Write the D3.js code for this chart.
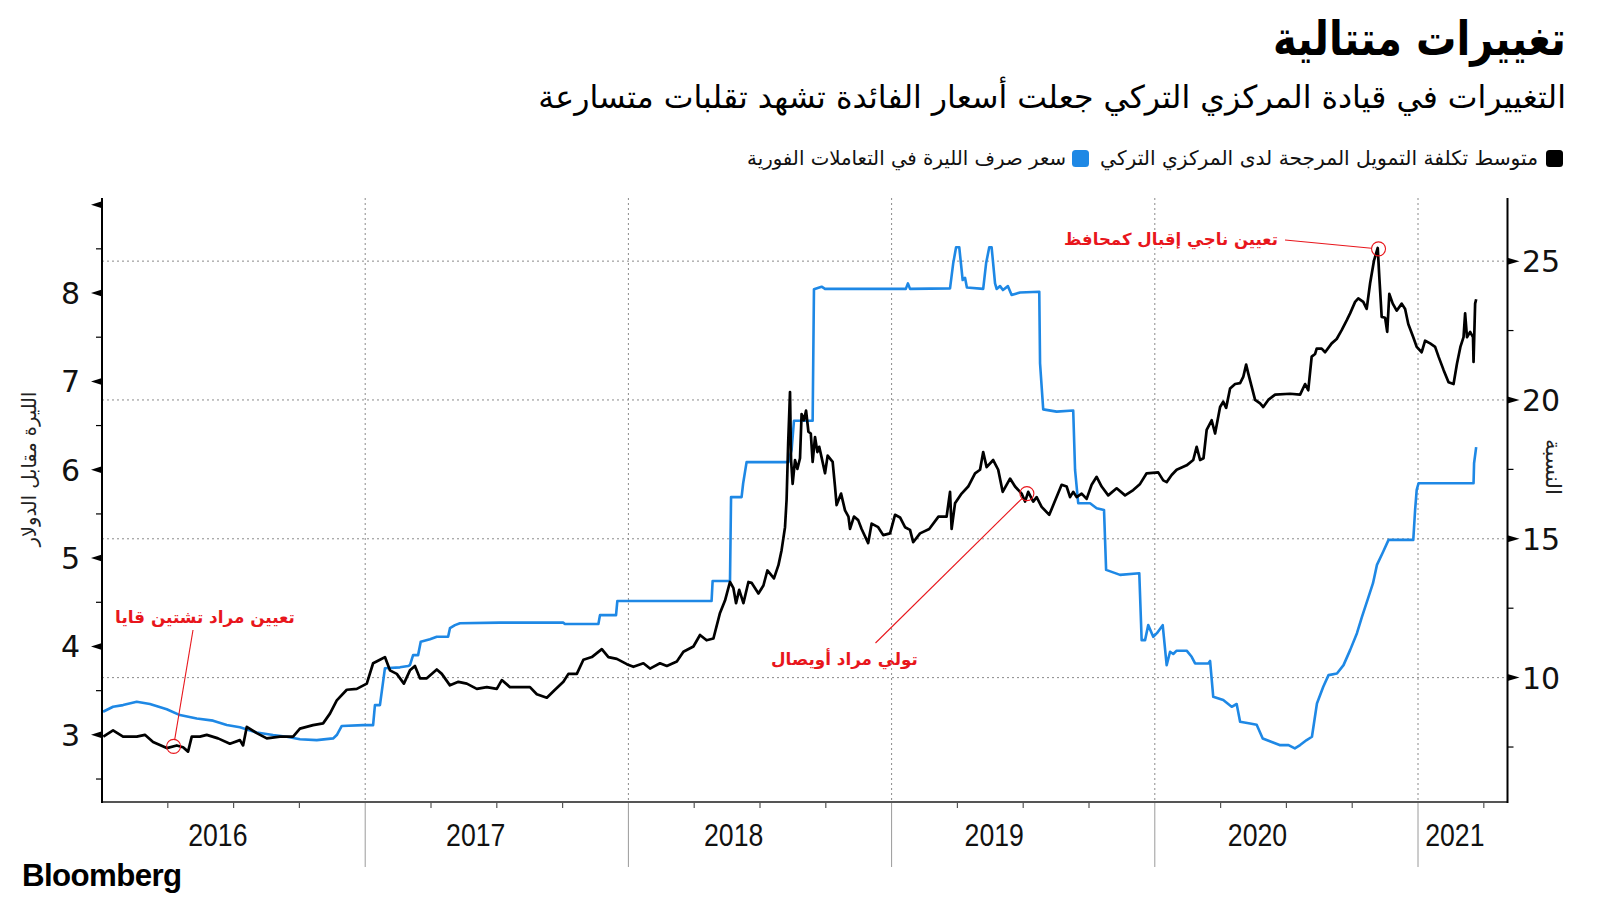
<!DOCTYPE html>
<html><head><meta charset="utf-8">
<script src="https://cdnjs.cloudflare.com/ajax/libs/d3/7.8.5/d3.min.js"></script>
<style>
html,body{margin:0;padding:0;background:#fff;}
svg{display:block;}
</style></head><body>
<svg id="c" width="1600" height="901"></svg>
<script>
// ---- DATA (time as decimal years) ----
const liraT = [2016.005,2016.042,2016.080,2016.132,2016.163,2016.194,2016.246,2016.284,2016.308,2016.327,2016.341,2016.372,2016.398,2016.441,2016.486,2016.524,2016.536,2016.550,2016.588,2016.626,2016.676,2016.726,2016.752,2016.802,2016.840,2016.866,2016.892,2016.930,2016.968,
2017.006,2017.030,2017.056,2017.075,2017.094,2017.120,2017.147,2017.170,2017.189,2017.208,2017.234,2017.272,2017.291,2017.322,2017.354,2017.386,2017.424,2017.462,2017.500,2017.519,2017.550,2017.588,2017.626,2017.652,2017.690,2017.721,2017.753,2017.772,2017.804,2017.829,2017.861,2017.899,2017.924,2017.956,2017.994,
2018.019,2018.057,2018.082,2018.120,2018.146,2018.184,2018.209,2018.247,2018.272,2018.297,2018.323,2018.348,2018.367,2018.386,2018.399,2018.409,2018.421,2018.437,2018.456,2018.468,2018.494,2018.513,2018.528,2018.553,2018.570,2018.582,2018.595,2018.601,2018.607,2018.614,2018.618,2018.624,2018.633,2018.642,2018.652,2018.658,2018.667,2018.675,2018.684,2018.693,2018.700,2018.709,2018.718,2018.725,2018.734,2018.747,2018.757,2018.776,2018.785,2018.791,2018.808,2018.823,2018.836,2018.842,2018.857,2018.873,2018.886,2018.911,2018.924,2018.949,2018.968,2018.994,
2019.013,2019.032,2019.051,2019.070,2019.082,2019.108,2019.143,2019.178,2019.209,2019.222,2019.228,2019.241,2019.266,2019.291,2019.317,2019.336,2019.348,2019.361,2019.386,2019.405,2019.422,2019.450,2019.469,2019.494,2019.507,2019.519,2019.538,2019.551,2019.570,2019.599,2019.617,2019.646,2019.665,2019.678,2019.690,2019.703,2019.722,2019.741,2019.760,2019.779,2019.798,2019.823,2019.855,2019.887,2019.918,2019.944,2019.969,
2020.013,2020.032,2020.045,2020.064,2020.083,2020.121,2020.146,2020.159,2020.172,2020.185,2020.197,2020.216,2020.229,2020.248,2020.260,2020.271,2020.286,2020.305,2020.324,2020.336,2020.347,2020.355,2020.368,2020.381,2020.400,2020.412,2020.431,2020.457,2020.514,2020.552,2020.571,2020.583,2020.596,2020.609,2020.615,2020.634,2020.647,2020.672,2020.691,2020.710,2020.729,2020.742,2020.761,2020.773,2020.792,2020.805,2020.818,2020.833,2020.847,2020.853,2020.862,2020.875,2020.883,2020.891,2020.904,2020.919,2020.938,2020.951,2020.963,2020.982,2020.995,
2021.014,2021.027,2021.046,2021.065,2021.078,2021.097,2021.116,2021.135,2021.148,2021.161,2021.173,2021.179,2021.186,2021.198,2021.209,2021.211,2021.217,2021.221];
const liraV = [2.98,3.05,2.98,2.98,3.00,2.92,2.85,2.88,2.86,2.81,2.98,2.98,3.00,2.96,2.90,2.94,2.88,3.09,3.02,2.96,2.98,2.98,3.07,3.11,3.13,3.24,3.39,3.51,3.52,
3.58,3.81,3.85,3.88,3.73,3.69,3.58,3.73,3.78,3.64,3.64,3.74,3.69,3.56,3.60,3.58,3.52,3.54,3.52,3.62,3.54,3.54,3.54,3.46,3.42,3.51,3.60,3.69,3.69,3.85,3.88,3.97,3.88,3.86,3.80,
3.77,3.81,3.75,3.81,3.78,3.83,3.94,4.00,4.13,4.07,4.09,4.38,4.52,4.73,4.66,4.49,4.64,4.49,4.73,4.72,4.60,4.69,4.86,4.77,4.92,5.09,5.35,5.66,6.30,6.88,6.11,5.84,6.11,6.01,6.13,6.63,6.56,6.67,6.43,6.41,6.09,6.37,6.20,6.26,6.14,5.96,6.16,6.09,5.81,5.60,5.73,5.54,5.47,5.33,5.47,5.43,5.33,5.17,5.39,5.35,5.26,5.28,
5.49,5.46,5.35,5.32,5.18,5.28,5.33,5.47,5.47,5.75,5.33,5.62,5.73,5.81,5.96,6.00,6.20,6.03,6.11,6.00,5.75,5.90,5.81,5.73,5.64,5.75,5.64,5.69,5.58,5.49,5.62,5.83,5.81,5.69,5.75,5.69,5.73,5.67,5.83,5.92,5.81,5.71,5.79,5.71,5.77,5.84,5.96,
5.97,5.88,5.86,5.94,6.00,6.05,6.11,6.26,6.11,6.13,6.45,6.56,6.41,6.71,6.77,6.70,6.92,6.97,6.98,7.05,7.19,7.09,6.94,6.79,6.75,6.71,6.79,6.85,6.86,6.85,6.97,6.90,7.28,7.31,7.37,7.37,7.33,7.43,7.48,7.58,7.69,7.77,7.90,7.94,7.90,7.82,8.11,8.37,8.51,8.18,7.73,7.72,7.56,7.99,7.88,7.80,7.88,7.82,7.65,7.50,7.39,
7.33,7.46,7.43,7.39,7.28,7.13,6.99,6.97,7.20,7.39,7.50,7.77,7.50,7.56,7.50,7.22,7.88,7.93];

const rateT = [2016.004,2016.042,2016.080,2016.132,2016.182,2016.246,2016.296,2016.360,2016.422,2016.474,2016.524,2016.588,2016.650,2016.702,2016.752,2016.816,2016.878,2016.892,2016.911,2016.992,
2017.030,2017.037,2017.056,2017.075,2017.132,2017.163,2017.170,2017.182,2017.201,2017.211,2017.246,2017.272,2017.315,2017.322,2017.341,2017.360,2017.512,2017.752,2017.759,2017.886,2017.892,2017.953,2017.958,
2018.316,2018.320,2018.386,2018.390,2018.430,2018.436,2018.449,2018.608,2018.620,2018.629,2018.700,2018.705,2018.734,2018.747,
2019.054,2019.062,2019.070,2019.222,2019.234,2019.245,2019.257,2019.270,2019.279,2019.286,2019.348,2019.359,2019.371,2019.380,2019.393,2019.399,2019.412,2019.423,2019.442,2019.456,2019.488,2019.561,2019.564,2019.576,2019.627,2019.690,2019.697,2019.709,2019.754,2019.779,2019.807,2019.815,2019.868,2019.941,2019.950,2019.963,2019.975,2019.994,
2020.008,2020.030,2020.045,2020.058,2020.070,2020.083,2020.121,2020.140,2020.153,2020.203,2020.210,2020.222,2020.260,2020.292,2020.311,2020.324,2020.362,2020.387,2020.410,2020.442,2020.474,2020.508,2020.532,2020.552,2020.577,2020.597,2020.616,2020.640,2020.660,2020.692,2020.717,2020.742,2020.768,2020.787,2020.812,2020.829,2020.844,2020.868,2020.888,2020.982,2020.989,2020.995,
2021.002,2021.211,2021.213,2021.221];
const rateV = [8.77,8.95,9.01,9.13,9.05,8.86,8.65,8.53,8.45,8.29,8.21,8.02,7.93,7.87,7.78,7.75,7.81,7.93,8.26,8.29,
8.29,9.01,9.01,10.34,10.37,10.42,10.45,10.81,10.81,11.29,11.38,11.47,11.47,11.78,11.89,11.96,11.98,11.98,11.93,11.93,12.25,12.25,12.76,
12.76,13.48,13.48,16.50,16.50,17.00,17.76,17.76,18.20,19.25,19.25,23.99,24.08,24.00,
24.00,24.20,24.00,24.02,24.92,25.50,25.50,24.32,24.40,24.05,24.00,24.92,25.50,25.50,24.20,24.00,24.10,23.96,24.10,23.78,23.87,23.90,21.32,19.66,19.58,19.62,17.48,16.28,16.28,16.10,16.04,13.88,13.70,13.76,11.35,11.35,11.89,11.47,
11.60,11.89,10.45,10.93,10.85,10.97,10.97,10.75,10.51,10.51,10.60,9.31,9.19,8.95,9.05,8.41,8.35,8.30,7.81,7.69,7.57,7.57,7.45,7.57,7.75,7.87,9.07,9.67,10.09,10.15,10.45,10.99,11.60,12.19,12.91,13.40,14.06,14.54,14.96,14.96,16.04,16.76,
17.00,17.00,17.72,18.30];

const years = [2016,2017,2018,2019,2020,2021];
const yearLabels = ["2016","2017","2018","2019","2020","2021"];
const leftTicks = [3,4,5,6,7,8,9];
const leftLabels = ["3","4","5","6","7","8",""];
const leftMinor = [2.5,3.5,4.5,5.5,6.5,7.5,8.5];
const rightTicks = [10,15,20,25];
const rightLabels = ["10","15","20","25"];
const rightMinor = [7.5,12.5,17.5,22.5];

const title = "تغييرات متتالية";
const subtitle = "التغييرات في قيادة المركزي التركي جعلت أسعار الفائدة تشهد تقلبات متسارعة";
const legendLabels = ["متوسط تكلفة التمويل المرجحة لدى المركزي التركي","سعر صرف الليرة في التعاملات الفورية"];
const leftTitle = "الليرة مقابل الدولار";
const rightTitle = "النسبة";
const annotations = [
  {t:2016.272, v:2.87, text:"تعيين مراد تشتين قايا"},
  {t:2019.514, v:5.73, text:"تولي مراد أويصال"},
  {t:2020.850, v:8.50, text:"تعيين ناجي إقبال كمحافظ"}
];

// ---- LAYOUT ----
const L = 102, R = 1507.5, T = 198, B = 802;
const BLUE = "#1e88e5", RED = "#e8161c";
const ARAB = "'DejaVu Sans', 'Noto Sans', sans-serif";
const svg = d3.select("#c");

const x = d3.scaleLinear().domain([2016, 2021.34]).range([L, R]);
const yL = d3.scaleLinear().domain([2.24, 9.03]).range([B, 202]);
const yR = d3.scaleLinear().domain([5.52, 27.13]).range([B, 202]);

function fit(sel, w){
  const n = sel.node(); const fs = parseFloat(sel.attr("font-size"));
  const len = n.getComputedTextLength(); if(len>0) sel.attr("font-size", fs*w/len);
  return sel;
}

// gridlines
const g = svg.append("g");
g.selectAll(".hg").data(rightTicks).join("line")
  .attr("x1", L).attr("x2", R).attr("y1", d=>yR(d)).attr("y2", d=>yR(d))
  .attr("stroke","#8a8a8a").attr("stroke-width",1).attr("stroke-dasharray","2,3");
const yearStarts = years.slice(1);
g.selectAll(".vg").data(yearStarts).join("line")
  .attr("x1", d=>x(d)).attr("x2", d=>x(d)).attr("y1", T).attr("y2", B)
  .attr("stroke","#8a8a8a").attr("stroke-width",1).attr("stroke-dasharray","2,3");
g.selectAll(".vs").data(yearStarts).join("line")
  .attr("x1", d=>x(d)).attr("x2", d=>x(d)).attr("y1", B).attr("y2", 867)
  .attr("stroke","#9a9a9a").attr("stroke-width",1);

// quarter ticks
const quarters = [];
years.forEach(yv=>[0.25,0.5,0.75].forEach(q=>{ if(yv+q < 2021.34) quarters.push(yv+q); }));
g.selectAll(".qt").data(quarters).join("line")
  .attr("x1", d=>x(d)).attr("x2", d=>x(d)).attr("y1", B).attr("y2", B+6)
  .attr("stroke","#555").attr("stroke-width",1.2);

// series
const blueData = rateT.map((t,i)=>[t, rateV[i]]);
const blackData = liraT.map((t,i)=>[t, liraV[i]]);
svg.append("path").datum(blueData)
  .attr("d", d3.line().x(d=>x(d[0])).y(d=>yR(d[1])))
  .attr("fill","none").attr("stroke",BLUE).attr("stroke-width",2.6).attr("stroke-linejoin","round");
svg.append("path").datum(blackData)
  .attr("d", d3.line().x(d=>x(d[0])).y(d=>yL(d[1])))
  .attr("fill","none").attr("stroke","#000").attr("stroke-width",2.7).attr("stroke-linejoin","round");

// axes lines
svg.append("line").attr("x1",L).attr("x2",R).attr("y1",B).attr("y2",B).attr("stroke","#555").attr("stroke-width",2);
svg.append("line").attr("x1",L).attr("x2",L).attr("y1",T).attr("y2",B+1).attr("stroke","#000").attr("stroke-width",2);
svg.append("line").attr("x1",R).attr("x2",R).attr("y1",T).attr("y2",B+1).attr("stroke","#000").attr("stroke-width",2);

// left ticks
svg.selectAll(".la").data(leftTicks).join("path")
  .attr("d", d=>`M${L-11},${yL(d)} L${L},${yL(d)-3.5} L${L},${yL(d)+3.5} Z`).attr("fill","#000");
svg.selectAll(".lm").data(leftMinor).join("line")
  .attr("x1",L-6).attr("x2",L).attr("y1",d=>yL(d)).attr("y2",d=>yL(d)).attr("stroke","#000").attr("stroke-width",1.2);
svg.selectAll(".ll").data(leftTicks).join("text")
  .attr("x", 80).attr("y", d=>yL(d)+11).attr("text-anchor","end")
  .attr("font-family","'DejaVu Sans', sans-serif").attr("font-size",30).attr("fill","#111")
  .text((d,i)=>leftLabels[i]);

// right ticks
svg.selectAll(".ra").data(rightTicks).join("path")
  .attr("d", d=>`M${R+12},${yR(d)} L${R},${yR(d)-3.5} L${R},${yR(d)+3.5} Z`).attr("fill","#000");
svg.selectAll(".rm").data(rightMinor).join("line")
  .attr("x1",R).attr("x2",R+6).attr("y1",d=>yR(d)).attr("y2",d=>yR(d)).attr("stroke","#000").attr("stroke-width",1.2);
svg.selectAll(".rl").data(rightTicks).join("text")
  .attr("x", 1522).attr("y", d=>yR(d)+11).attr("text-anchor","start")
  .attr("font-family","'DejaVu Sans', sans-serif").attr("font-size",30).attr("fill","#111")
  .text((d,i)=>rightLabels[i]);

// x labels (condensed)
const labelPos = [2016.44, 2017.42, 2018.40, 2019.39, 2020.39, 2021.14];
svg.selectAll(".xl").data(yearLabels).join("text")
  .attr("transform",(d,i)=>`translate(${x(labelPos[i])},846) scale(0.86,1)`).attr("text-anchor","middle")
  .attr("font-family","'Liberation Sans',Arial,sans-serif")
  .attr("font-size",31).attr("fill","#111").text(d=>d);

// axis titles
const lt = svg.append("text").attr("transform","translate(36,469) rotate(-90)")
  .attr("text-anchor","middle").attr("font-family",ARAB).attr("font-size",18).attr("fill","#222").text(leftTitle);
fit(lt,155);
const rt = svg.append("text").attr("transform","translate(1546,467) rotate(90)")
  .attr("text-anchor","middle").attr("font-family",ARAB).attr("font-size",18).attr("fill","#222").text(rightTitle);
fit(rt,56);

// title, subtitle, legend
const tt = svg.append("text").attr("transform","translate(1566,55) scale(1,1.18)").attr("text-anchor","end")
  .attr("font-family",ARAB).attr("font-weight","bold").attr("font-size",38).attr("fill","#000").text(title);
fit(tt,293);
const st = svg.append("text").attr("x",1566).attr("y",108).attr("text-anchor","end")
  .attr("font-family",ARAB).attr("font-size",28).attr("fill","#000").text(subtitle);
fit(st,1028);

svg.append("rect").attr("x",1546).attr("y",150).attr("width",17).attr("height",17).attr("rx",3.5).attr("fill","#000");
const lg1 = svg.append("text").attr("x",1538).attr("y",165).attr("text-anchor","end")
  .attr("font-family",ARAB).attr("font-size",20).attr("fill","#111").text(legendLabels[0]);
fit(lg1,438);
svg.append("rect").attr("x",1072).attr("y",150).attr("width",17).attr("height",17).attr("rx",3.5).attr("fill",BLUE);
const lg2 = svg.append("text").attr("x",1066).attr("y",165).attr("text-anchor","end")
  .attr("font-family",ARAB).attr("font-size",20).attr("fill","#111").text(legendLabels[1]);
fit(lg2,319);

// annotations
const annLabel = [
  {cx:205, cy:623, w:180, lx:193, ly:630},
  {cx:844.5, cy:665, w:147, lx:875.5, ly:643},
  {cx:1171, cy:245, w:214, lx:1285, ly:240}
];
annotations.forEach((a,i)=>{
  const px = x(a.t), py = yL(a.v), lb = annLabel[i];
  const dx = lb.lx-px, dy = lb.ly-py, dd = Math.hypot(dx,dy), r=7;
  svg.append("line").attr("x1",lb.lx).attr("y1",lb.ly).attr("x2",px+dx/dd*r).attr("y2",py+dy/dd*r)
    .attr("stroke",RED).attr("stroke-width",1.1);
  svg.append("circle").attr("cx",px).attr("cy",py).attr("r",r).attr("fill","none").attr("stroke",RED).attr("stroke-width",1.1);
  const t = svg.append("text").attr("x",lb.cx).attr("y",lb.cy).attr("text-anchor","middle")
    .attr("font-family",ARAB).attr("font-weight","bold").attr("font-size",18).attr("fill",RED).text(a.text);
  fit(t, lb.w);
});

// source
const bb = svg.append("text").attr("x",22).attr("y",886).attr("font-family","'Liberation Sans',Arial,sans-serif")
  .attr("font-weight","bold").attr("font-size",28).attr("letter-spacing",-0.6).attr("fill","#000").text("Bloomberg");
fit(bb,159);
</script>
</body></html>
